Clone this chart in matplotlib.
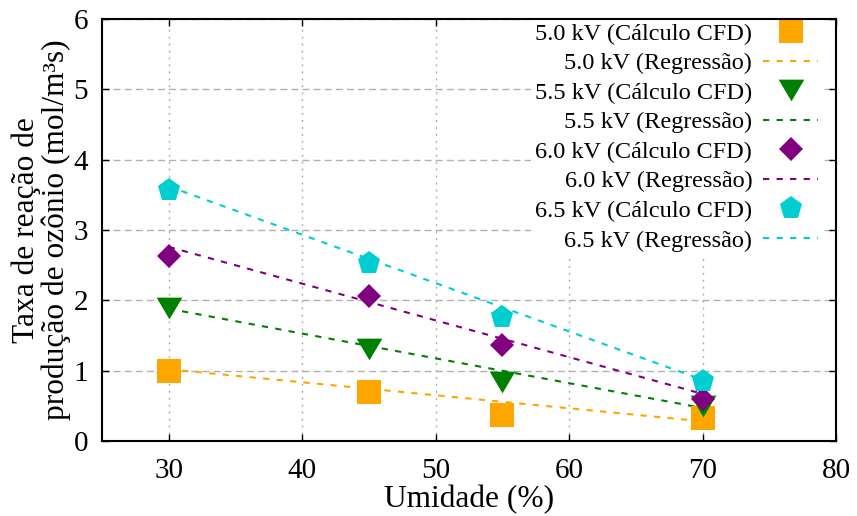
import matplotlib
matplotlib.use("Agg")
import matplotlib.pyplot as plt
import numpy as np

plt.rcParams['font.family'] = ['Liberation Serif', 'DejaVu Serif']
plt.rcParams['mathtext.fontset'] = 'stix'

umidade = [30, 45, 55, 70]
series_labels = ["5.0 kV", "5.5 kV", "6.0 kV", "6.5 kV"]
cfd_50 = [0.99, 0.70, 0.37, 0.33]
cfd_55 = [1.89, 1.31, 0.84, 0.50]
cfd_60 = [2.63, 2.06, 1.36, 0.60]
cfd_65 = [3.57, 2.53, 1.77, 0.86]
reg_x = [30, 70]
reg_50 = [1.02, 0.28]
reg_55 = [1.88, 0.47]
reg_60 = [2.76, 0.67]
reg_65 = [3.62, 0.87]

xticks = [30, 40, 50, 60, 70, 80]
yticks = [0, 1, 2, 3, 4, 5, 6]

colors = ["#FFA500", "#008000", "#800080", "#00CED1"]
tri = [(-1, 0.845), (1, 0.845), (0, -0.845)]
markers = ["s", tri, "D", "p"]
msizes = [17.3, 18.5, 12.2, 17.1]

fig = plt.figure(figsize=(8.57, 5.16), dpi=100)
ax = fig.add_axes([102/857, 1-441/516, (836-102)/857, (441-19)/516])

cfd = [cfd_50, cfd_55, cfd_60, cfd_65]
reg = [reg_50, reg_55, reg_60, reg_65]
for lab, c, m, ms, yv, rv in zip(series_labels, colors, markers, msizes, cfd, reg):
    ax.plot(umidade, yv, linestyle="none", marker=m, markersize=ms, color=c,
            markeredgewidth=0, label=f"{lab} (Cálculo CFD)", zorder=3)
    ax.plot(reg_x, rv, linestyle=(0, (3, 3.5)), lw=1.5, color=c,
            label=f"{lab} (Regressão)", zorder=2)

ax.set_xlim(25, 80)
ax.set_ylim(0, 6)
ax.set_xticks(xticks)
ax.set_yticks(yticks)
ax.tick_params(direction="in", length=5, width=1, labelsize=21, pad=10,
               top=True, right=True)
ax.tick_params(axis="x", pad=12)
for s in ax.spines.values():
    s.set_linewidth(1.5)
    s.set_zorder(10)

ax.xaxis.grid(True, color="#b0b0b0", lw=1, linestyle=(0, (1.5, 3.5)))
ax.yaxis.grid(True, color="#b0b0b0", lw=1, linestyle=(0, (5, 3)))
ax.set_axisbelow(True)

ax.set_xlabel("Umidade (%)", fontsize=22.6, labelpad=1)
ax.set_ylabel("Taxa de reação de\nprodução de ozônio (mol/m³s)", fontsize=22.6,
              labelpad=2, linespacing=1.0)

leg = ax.legend(loc="upper right", bbox_to_anchor=(0.9804, 1.0),
                markerfirst=False, frameon=True,
                fontsize=17.5, handlelength=2.26, labelspacing=0.31,
                borderaxespad=0.0, handletextpad=0.44, borderpad=0.15,
                numpoints=1)
leg.get_frame().set_edgecolor("none")
leg.get_frame().set_facecolor("white")
leg.get_frame().set_alpha(1)
leg.get_frame().set_boxstyle("square", pad=0)

fig.savefig("out.png", dpi=100)
